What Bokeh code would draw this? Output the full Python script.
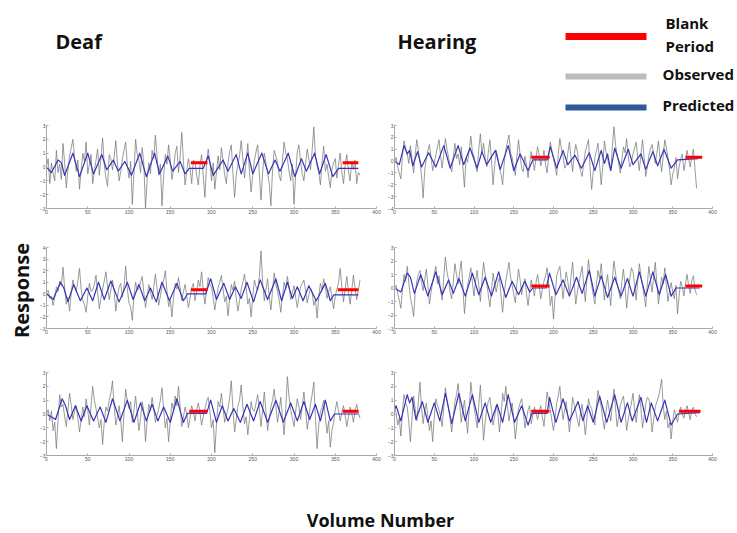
from bokeh.plotting import figure
from bokeh.layouts import row, column
from bokeh.models import Range1d, FixedTicker
from bokeh.core.properties import value
from bokeh.embed import file_html
from bokeh.resources import INLINE

# ---------------- data ----------------
VOL = list(range(0, 382, 2))          # observed volume numbers (every 2nd)
XTICKS = [0, 50, 100, 150, 200, 250, 300, 350, 400]

# Deaf, top
obs1 = [0.0,0.6,-1.2,0.3,-0.5,-1.0,1.2,-0.4,0.2,-0.9,1.7,0.3,-1.5,-0.2,0.8,1.4,2.0,0.7,-0.3,0.5,
        -1.6,-0.2,1.0,0.4,1.8,-0.5,0.2,0.9,-1.2,-0.3,0.5,1.3,-0.6,0.6,2.1,0.2,-0.8,-1.4,0.9,0.6,
        -0.2,0.7,1.9,0.3,-1.0,-0.3,0.6,1.2,1.8,0.1,-0.8,0.4,-2.7,-0.5,2.0,0.9,0.5,-0.4,1.4,0.2,
        -3.0,-0.9,0.3,-0.5,1.2,0.6,2.3,0.8,-0.6,0.2,-2.8,-0.7,0.9,0.2,1.6,0.5,-0.9,-0.2,1.0,1.5,
        -0.4,0.8,2.5,0.4,-1.3,-0.3,0.6,-0.1,-1.2,0.5,0.4,-0.6,-1.3,0.1,0.9,-0.7,-2.2,0.2,1.3,0.4,
        -1.0,0.3,-1.6,-0.4,0.8,-0.2,1.4,0.5,-0.6,-1.2,0.3,1.1,1.6,-0.5,-2.2,-0.6,0.2,0.8,1.9,0.6,
        -0.8,0.4,1.7,-0.3,-1.8,-0.6,0.5,1.1,1.6,-0.5,-2.4,-0.3,1.0,0.3,-0.4,-1.2,-2.8,-0.2,1.2,0.8,
        0.3,-0.6,-1.0,0.5,1.8,1.0,0.6,-0.3,-1.0,0.2,-2.7,-0.6,1.1,1.6,0.4,-0.5,-1.0,0.2,1.3,0.6,
        -0.2,1.2,2.9,0.8,0.1,-0.4,-1.3,0.3,1.5,-0.3,0.2,-0.7,-1.5,-0.2,0.3,0.6,-0.8,0.2,1.0,-0.4,
        -1.2,0.1,0.9,-0.3,-1.0,0.4,-0.2,0.5,-1.2,-0.4,-0.6]
pred1_x = [0,6,14,18,22,32,40,50,57,67,73,81,87,95,103,113,121,131,137,147,153,162,168,173,190,
           196,202,214,220,230,236,244,250,261,269,277,283,293,301,309,315,325,331,339,347,354,378]
pred1_y = [0.0,-0.4,0.5,0.3,-0.6,1.0,-0.7,1.0,-0.5,0.9,-0.2,0.5,-0.3,0.4,-0.6,1.0,-0.7,1.0,-0.5,0.8,-0.3,0.4,-0.5,-0.1,-0.1,
           0.8,-0.6,0.5,-0.3,0.9,-0.5,1.0,-0.5,1.0,-0.5,0.5,-0.3,1.0,-0.7,0.6,-0.3,1.0,-0.5,0.9,-0.7,-0.1,-0.1]
blank1_start = [175, 359]
blank1_end = [195, 378]
blank1_level = [0.3, 0.3]

# Hearing, top
obs2 = [-0.2,0.3,-0.5,-1.0,-1.5,0.4,1.7,1.1,0.6,-0.2,1.3,0.2,-1.0,0.5,1.8,0.9,0.0,-1.2,-3.1,-0.8,
        0.2,0.9,1.4,0.3,-0.8,-0.2,0.5,1.2,1.8,0.4,-0.6,0.6,1.9,1.0,0.3,-0.4,-0.9,0.4,1.5,0.2,
        0.6,-0.3,1.2,-0.5,-2.2,0.3,-0.1,0.9,2.1,0.8,0.4,-0.4,-0.9,1.0,2.3,0.6,1.5,0.3,-0.5,0.7,
        1.8,0.1,-2.0,-0.4,0.9,0.3,-0.6,-1.1,-2.0,-0.2,1.0,1.6,2.2,0.7,0.3,-0.5,-1.2,0.4,1.8,0.5,
        -0.6,-0.9,0.4,-0.3,-1.4,-0.2,0.8,0.1,-0.8,0.3,1.2,0.5,-0.4,0.2,0.9,-0.3,-1.0,0.4,1.6,0.9,
        0.2,-0.5,-1.2,0.6,1.9,1.0,0.4,-0.6,-0.4,0.7,1.6,0.3,-0.9,0.5,1.4,0.8,-0.3,-0.8,-1.3,-0.2,
        0.8,1.3,1.8,-0.6,-2.4,-0.9,0.3,0.9,1.5,-0.3,-2.0,-0.4,1.7,0.8,0.2,-0.4,-0.8,1.2,2.9,1.4,
        0.5,-0.2,-1.0,0.1,1.2,0.7,1.9,0.4,-0.5,-0.1,0.6,1.1,1.6,0.2,-0.8,0.6,1.8,0.3,-1.3,-0.5,
        0.5,1.0,1.4,0.6,-0.2,0.7,1.7,0.2,-0.9,0.4,1.8,1.1,0.3,-0.7,-2.0,-1.1,-0.6,0.3,-1.5,-0.5,
        0.2,0.6,-0.8,-0.1,0.9,0.2,-0.5,0.4,1.0,-0.7,-2.3]
pred2_x = [0,6,12,16,19,23,29,34,43,52,62,70,80,87,95,104,110,116,127,133,143,150,158,168,174,192,
           196,204,212,218,227,235,245,252,260,264,268,272,277,285,294,300,310,316,325,331,339,348,356,382]
pred2_y = [0.0,-0.3,1.3,0.6,0.9,-0.4,0.8,-0.5,0.7,-0.5,1.3,-0.6,1.3,-0.3,1.1,-0.6,0.8,-0.3,0.9,-0.7,1.3,-0.8,0.6,-0.8,0.1,0.1,
           1.2,-0.6,0.9,-0.3,0.5,-0.6,0.7,-0.8,0.9,-0.2,0.6,-0.8,1.1,-0.6,1.0,-0.3,0.6,-0.7,0.8,-0.4,1.0,-0.6,0.1,0.2]
blank2_start = [172, 366]
blank2_end = [195, 387]
blank2_level = [0.33, 0.33]

# Deaf, middle
obs3 = [0.1,0.3,-0.4,-0.2,-1.0,-0.3,0.6,0.2,1.1,0.7,2.3,0.5,-0.9,-0.3,-1.5,0.1,1.2,0.6,0.2,1.1,
        2.2,0.4,-0.6,-0.9,-1.6,-0.2,0.9,0.2,0.3,0.8,1.6,0.1,-1.3,-0.4,0.4,1.1,1.9,0.6,-0.5,0.3,
        1.2,0.2,-1.5,-0.3,0.6,0.9,-0.3,0.7,2.4,0.4,-0.8,-1.1,-2.3,-0.2,1.0,0.3,0.5,1.0,1.5,0.1,
        -1.2,-0.3,0.8,0.2,-0.5,0.6,1.7,0.5,-1.0,-0.2,0.6,1.2,2.0,0.3,-1.1,-0.6,-2.0,-0.3,0.9,0.4,
        1.4,0.5,-0.6,0.2,0.8,-0.3,-1.2,-0.4,0.5,0.9,-0.6,0.2,1.2,0.6,1.9,0.3,-0.9,0.2,1.4,0.8,
        0.6,-0.3,-1.4,-0.4,0.5,1.0,1.6,0.4,-0.7,-0.2,-1.9,-0.5,0.8,0.3,1.1,-0.4,-1.5,-0.6,0.4,1.0,
        1.7,0.5,-0.9,-0.4,-2.0,-0.3,1.2,0.6,0.3,1.5,3.7,1.0,-0.6,0.4,1.3,-0.2,-1.4,0.3,1.8,0.8,
        0.2,-0.5,-1.6,-0.2,1.0,0.4,1.5,0.6,-0.5,0.1,0.7,-0.3,-1.2,-0.2,0.6,0.9,1.2,0.3,-0.8,-0.1,
        0.5,0.1,-1.0,-0.5,-2.1,-0.3,0.9,0.3,1.3,0.5,-0.4,0.2,0.6,-0.4,-1.3,-0.2,0.4,1.0,2.2,0.6,
        -0.7,0.4,1.5,0.2,-0.9,0.3,1.6,0.5,-0.5,0.3,1.2]
pred3_x = [0,8,17,21,26,33,41,49,56,63,70,78,88,98,105,112,119,126,133,140,149,158,166,171,193,
           199,206,215,222,229,236,243,251,259,268,278,285,292,298,304,311,318,327,338,344,348,378]
pred3_y = [0.0,-0.5,1.0,0.5,-0.7,0.8,-0.6,0.5,-0.6,1.0,-0.5,1.1,-0.7,1.0,-0.5,0.8,-0.6,0.5,-0.7,1.0,-0.6,0.9,-0.6,0.0,0.0,
           1.3,-0.5,0.9,-0.5,0.6,-0.4,1.0,-0.7,1.2,-0.5,1.3,-0.6,1.0,-0.4,0.6,-0.6,0.7,-0.6,0.9,-0.6,-0.1,-0.1]
blank3_start = [175, 353]
blank3_end = [195, 378]
blank3_level = [0.35, 0.35]

# Hearing, middle
obs4 = [0.0,0.2,-0.4,-0.9,-1.5,-0.2,1.0,0.5,1.6,0.4,-0.7,-1.3,-2.1,-0.4,0.5,1.0,1.3,0.4,-0.2,0.6,
        1.4,0.2,-1.2,-0.3,0.4,1.1,1.6,0.3,0.9,-0.2,-0.9,0.8,2.3,1.2,0.6,-0.3,-0.8,0.5,1.8,1.0,
        0.3,1.2,2.0,0.1,-1.9,-0.6,0.2,0.8,1.5,0.4,-0.6,0.5,1.3,0.2,-1.0,0.6,1.9,1.0,0.4,-0.5,
        -1.4,-0.2,1.1,0.3,-0.3,0.4,0.8,-0.6,-1.8,-0.4,0.5,1.2,1.9,0.8,0.2,-0.5,-1.1,0.3,1.4,0.6,
        -0.5,0.2,0.7,-0.4,-1.3,-0.2,0.6,0.1,-0.6,0.4,1.0,0.2,-0.8,-0.1,0.5,0.9,1.5,0.2,-1.3,-0.6,
        -2.3,-0.6,0.9,1.3,1.6,0.4,-0.8,0.3,1.2,0.5,-0.5,0.8,1.9,0.4,-1.2,-0.3,0.4,1.0,1.6,0.2,
        -1.0,0.6,2.1,1.0,0.2,-0.5,-1.2,0.3,1.3,0.7,1.8,0.5,-0.9,0.2,1.0,-0.3,-1.3,0.6,2.0,1.1,
        0.3,-0.2,-0.8,0.5,1.4,0.1,-1.5,-0.3,0.7,1.5,1.2,0.3,-0.9,0.6,1.8,0.9,0.2,-0.6,-1.4,0.3,
        1.6,0.6,-0.3,0.8,1.9,0.4,-1.2,-0.2,0.8,0.3,1.5,0.2,-1.0,-0.2,0.4,-0.3,-0.8,0.2,-1.9,-0.6,
        0.5,0.1,-0.6,0.3,1.0,0.2,-0.4,0.6,0.9,-0.1,-0.5]
pred4_x = [0,8,16,20,25,33,42,52,60,68,74,81,89,98,106,114,122,131,140,148,156,164,170,174,191,
           195,203,212,220,229,236,245,252,260,268,277,285,293,300,308,316,325,333,341,348,354,384]
pred4_y = [0.0,-0.3,1.1,0.8,-0.4,1.0,-0.6,1.2,-0.5,0.6,-0.4,0.7,-0.6,1.1,-0.5,0.8,-0.6,1.2,-0.7,0.5,-0.5,0.5,-0.3,0.0,0.0,
           1.1,-0.5,0.6,-0.6,0.8,-0.4,1.3,-0.6,0.9,-0.7,0.8,-0.6,0.7,-0.6,1.2,-0.6,1.2,-0.5,1.0,-0.6,0.0,0.0]
blank4_start = [172, 366]
blank4_end = [195, 387]
blank4_level = [0.15, 0.15]

# Deaf, bottom
obs5 = [0.0,0.3,-0.5,0.2,-1.2,-0.6,-2.5,-0.4,1.4,0.5,0.7,-0.2,-0.9,0.3,1.5,0.6,-0.4,0.2,0.6,-0.3,
        -1.3,-0.4,0.5,-0.2,1.1,0.3,-0.8,0.6,2.0,1.0,0.4,-0.3,-1.0,-0.4,-2.2,-0.6,0.5,0.2,1.0,1.5,
        2.4,0.6,-0.8,-0.2,0.6,-0.5,-2.0,0.2,1.8,0.9,0.4,0.9,-0.6,0.3,1.3,0.1,-1.2,-0.3,0.9,0.2,
        -2.0,-0.5,0.7,0.2,1.2,0.4,-0.6,-0.1,0.4,1.0,1.9,0.3,-1.0,-0.3,-2.0,-0.5,0.8,0.3,1.3,0.6,
        2.0,0.5,-0.9,-0.2,0.5,0.0,-1.0,-0.3,0.6,0.2,-0.5,0.3,0.8,0.1,-0.8,-0.2,0.4,0.9,1.2,0.2,
        -1.0,-0.4,-2.8,-0.8,0.9,0.5,1.5,0.4,-0.6,-0.1,0.4,1.2,2.4,0.3,-1.3,-0.4,0.6,1.0,2.1,0.5,
        -0.7,-0.2,-1.5,-0.4,0.9,0.3,0.2,0.8,1.4,0.4,-0.9,0.3,1.6,0.2,-1.2,-0.3,0.5,1.0,1.8,0.6,
        -0.6,0.2,1.2,-0.2,-1.5,0.4,2.7,1.2,0.3,-0.3,-0.9,0.2,1.1,0.5,-0.4,0.6,1.6,0.4,-1.1,-0.3,
        0.7,1.4,2.3,-0.3,-2.5,-0.8,0.2,0.5,1.0,-0.2,-1.4,-0.5,-2.4,-1.2,-0.6,0.3,0.9,0.2,-0.5,0.1,
        0.6,-0.1,-0.9,-0.2,0.5,0.1,-0.6,0.2,0.7,0.1,-0.3]
pred5_x = [0,11,19,23,28,35,42,49,57,65,72,80,89,98,106,114,121,128,135,142,150,158,166,171,194,
           199,206,213,220,227,235,243,251,259,268,278,287,296,304,312,319,326,332,338,344,349,378]
pred5_y = [0.0,-0.4,1.1,0.6,-0.4,0.6,-0.5,0.6,-0.5,0.5,-0.6,1.1,-0.5,1.0,-0.6,0.8,-0.5,0.7,-0.5,0.5,-0.6,1.1,-0.6,0.05,0.05,
           1.0,-0.6,0.6,-0.5,0.4,-0.6,0.7,-0.5,0.9,-0.6,1.0,-0.6,0.8,-0.5,0.9,-0.4,0.7,-0.5,1.0,-0.5,0.0,0.0]
blank5_start = [173, 359]
blank5_end = [195, 378]
blank5_level = [0.2, 0.2]

# Hearing, bottom
obs6 = [0.4,0.1,-0.8,-0.3,-1.6,0.2,1.4,0.8,0.5,-0.6,-2.0,-0.3,1.3,0.4,-0.5,0.9,2.3,0.5,-0.7,0.2,
        0.8,-0.2,-1.2,-0.5,-2.0,-0.3,1.1,0.6,0.3,-0.2,-0.9,0.5,1.9,1.1,0.4,-0.4,-1.3,-0.2,0.9,1.4,
        2.2,0.7,-0.6,0.3,1.0,-0.3,-1.4,0.4,2.3,1.2,0.5,-0.2,-1.0,0.6,2.1,0.2,-1.9,-0.6,0.4,0.9,
        1.2,0.3,-0.8,-0.2,0.6,0.1,-1.3,-0.2,1.5,0.9,2.0,0.6,-0.5,0.2,0.8,-0.4,-1.8,-0.6,0.4,0.8,
        1.1,0.2,-1.0,-0.4,0.3,0.6,-0.7,-0.1,0.5,0.1,-0.4,0.2,0.6,-0.2,-0.9,0.4,1.6,0.9,0.3,-0.5,
        -1.2,-0.3,0.8,1.3,2.0,0.6,-0.4,0.3,0.9,-0.2,-1.3,-0.2,1.2,0.7,0.2,-0.4,-0.9,0.1,0.7,-0.3,
        -1.5,-0.4,1.1,0.6,0.4,-0.3,-0.8,0.6,1.7,1.0,0.5,-0.4,-1.1,0.1,1.0,0.3,-0.5,0.7,1.8,0.4,
        -0.9,-0.2,0.6,1.0,1.3,0.2,-1.2,-0.4,0.2,0.8,1.5,0.3,-0.6,0.5,1.4,0.4,-1.0,-0.2,0.7,1.2,
        1.1,0.2,-1.3,-0.4,0.5,0.9,1.2,1.8,2.5,0.6,-0.4,0.2,-1.0,-0.6,-1.8,-0.5,0.3,-0.1,-0.6,0.1,
        0.5,0.0,-0.3,0.2,0.6,0.1,-0.4,0.3,0.5,0.0,-0.2]
pred6_x = [0,2,8,16,19,22,27,35,42,50,57,64,72,81,89,98,106,114,121,129,136,143,151,160,168,173,192,
           195,203,212,220,231,237,243,250,258,267,277,285,293,299,310,317,323,331,340,348,356,384]
pred6_y = [0.3,0.6,-0.5,1.4,0.8,1.2,-0.4,0.9,-0.6,0.8,-0.5,1.5,-0.7,1.5,-0.5,1.4,-0.6,0.8,-0.6,0.7,-0.6,1.4,-0.6,0.6,-0.8,0.05,0.05,
           1.2,-0.6,1.1,-0.5,0.9,-0.5,0.6,-0.6,1.3,-0.6,1.4,-0.6,0.8,-0.5,1.2,-0.6,0.8,-0.5,1.0,-0.8,0.0,0.1]
blank6_start = [172, 358]
blank6_end = [195, 385]
blank6_level = [0.2, 0.2]

# ---------------- styling ----------------
OBS_COLOR = "#7a7a7a"
PRED_COLOR = "#3535b5"
BLANK_COLOR = "#ff0000"
FONT = value("Open Sans")


def panel(obs, px, py, bs, be, bl, ylo, yhi, width, height, bl_, br_, bt_, bb_):
    p = figure(width=width, height=height, x_range=Range1d(0, 400), y_range=Range1d(ylo, yhi),
               output_backend="svg", toolbar_location=None,
               min_border_left=bl_, min_border_right=br_, min_border_top=bt_, min_border_bottom=bb_)
    p.outline_line_color = None
    p.xgrid.grid_line_color = None
    p.ygrid.grid_line_color = None
    p.background_fill_color = "white"
    p.border_fill_color = "white"
    p.xaxis.ticker = FixedTicker(ticks=XTICKS)
    p.yaxis.ticker = FixedTicker(ticks=list(range(ylo, yhi + 1)))
    for ax in (p.xaxis, p.yaxis):
        ax.axis_line_color = "#a8a8a8"
        ax.major_tick_line_color = "#a8a8a8"
        ax.major_tick_in = 2
        ax.major_tick_out = 0
        ax.minor_tick_line_color = None
        ax.major_label_text_font_size = "5px"
        ax.major_label_text_color = "#555555"
        ax.major_label_text_font = "Liberation Sans"
        ax.major_label_standoff = 1
    x = VOL[:len(obs)]
    p.line(x, obs, line_color=OBS_COLOR, line_width=0.75)
    p.line(px, py, line_color=PRED_COLOR, line_width=1.2, line_join="round")
    p.segment(x0=bs, y0=bl, x1=be, y1=bl, line_color=BLANK_COLOR, line_width=3)
    return p


p1 = panel(obs1, pred1_x, pred1_y, blank1_start, blank1_end, blank1_level, -3, 3, 348, 115, 10, 8, 10, 22)
p2 = panel(obs2, pred2_x, pred2_y, blank2_start, blank2_end, blank2_level, -4, 3, 345, 115, 8, 17, 10, 22)
p3 = panel(obs3, pred3_x, pred3_y, blank3_start, blank3_end, blank3_level, -3, 4, 348, 125, 10, 8, 15, 21)
p4 = panel(obs4, pred4_x, pred4_y, blank4_start, blank4_end, blank4_level, -3, 3, 345, 125, 8, 17, 17, 27)
p5 = panel(obs5, pred5_x, pred5_y, blank5_start, blank5_end, blank5_level, -3, 3, 348, 115, 10, 8, 17, 15)
p6 = panel(obs6, pred6_x, pred6_y, blank6_start, blank6_end, blank6_level, -3, 3, 345, 115, 8, 17, 17, 15)


def blank_fig(width, height, x0, x1, y0, y1):
    f = figure(width=width, height=height, x_range=Range1d(x0, x1), y_range=Range1d(y1, y0),
               x_axis_type=None, y_axis_type=None, output_backend="svg", toolbar_location=None,
               min_border=0)
    f.outline_line_color = None
    f.xgrid.grid_line_color = None
    f.ygrid.grid_line_color = None
    return f


# header (coordinates are picture pixels)
hdr = blank_fig(737, 115, 0, 737, 0, 115)
hdr.text(x=[55, 397], y=[41, 41], text=["Deaf", "Hearing"], text_font=FONT, text_font_style="bold",
         text_font_size="20px", text_baseline="middle", text_align="left", text_color="#111111")
hdr.segment(x0=[565], y0=[36], x1=[646], y1=[36], line_color=BLANK_COLOR, line_width=7)
hdr.segment(x0=[565], y0=[76], x1=[646], y1=[76], line_color="#bdbdbd", line_width=6)
hdr.segment(x0=[565], y0=[107], x1=[646], y1=[107], line_color="#2e5a96", line_width=6)
hdr.text(x=[665, 665, 662, 662], y=[22, 45, 73, 104], text=["Blank", "Period", "Observed", "Predicted"],
         text_font=FONT, text_font_style="bold", text_font_size="15px", text_baseline="middle",
         text_align="left", text_color="#111111")

# left label
lab = blank_fig(36, 355, 0, 36, 115, 470)
lab.text(x=[21], y=[290], text=["Response"], angle=1.5708, text_font=FONT, text_font_style="bold",
         text_font_size="20px", text_baseline="middle", text_align="center", text_color="#111111")

# footer
ftr = blank_fig(729, 60, 0, 729, 470, 530)
ftr.text(x=[380], y=[519], text=["Volume Number"], text_font=FONT, text_font_style="bold",
         text_font_size="18px", text_baseline="middle", text_align="center", text_color="#111111")

layout = column(hdr, row(lab, column(row(p1, p2), row(p3, p4), row(p5, p6))), ftr)

open("out.html", "w").write(file_html(layout, INLINE))
